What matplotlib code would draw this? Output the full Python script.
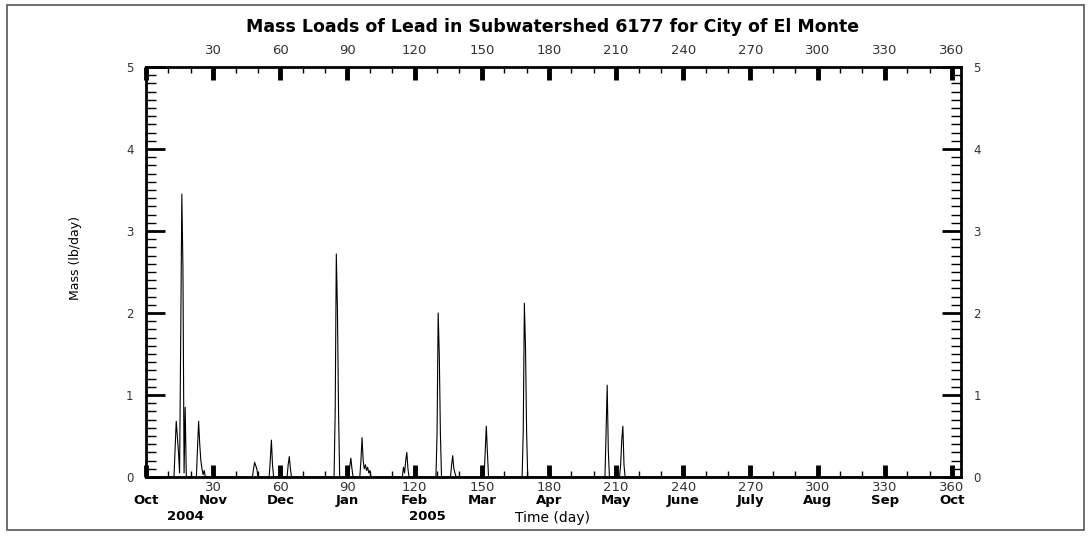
import matplotlib.pyplot as plt
from matplotlib.patches import Rectangle

plt.rcParams['font.family'] = ['DejaVu Sans']

# mass loads (day of water year, lb/day)
day = [0, 12.5, 13.0, 13.5, 14.0, 14.5, 15.0, 15.5, 16.0, 16.5, 17.0, 17.5, 18.0,
       22.5, 23.0, 23.5, 24.0, 24.5, 25.0, 25.5, 26.0, 26.5,
       47.5, 48.5, 49.5, 50.0,
       55.0, 55.5, 56.0, 56.5, 57.0,
       63.0, 63.5, 64.0, 64.5, 65.0,
       84.0, 84.5, 85.0, 85.5, 86.0, 86.5,
       90.5, 91.0, 91.5, 92.0, 92.5,
       95.5, 96.0, 96.5, 97.0, 97.5, 98.0, 98.5, 99.0, 99.5, 100.0, 100.5,
       114.5, 115.0, 115.5, 116.0, 116.5, 117.0, 117.5,
       129.5, 130.0, 130.5, 131.0, 131.5, 132.0,
       136.0, 136.5, 137.0, 137.5, 138.0, 138.5,
       151.0, 151.5, 152.0, 152.5, 153.0,
       168.0, 168.5, 169.0, 169.5, 170.0, 170.5,
       205.0, 205.5, 206.0, 206.5, 207.0,
       211.5, 212.0, 212.5, 213.0, 213.5, 214.0, 364]
mass = [0, 0, 0.35, 0.68, 0.5, 0.3, 0.05, 1.7, 3.45, 2.55, 0.05, 0.85, 0,
        0, 0.35, 0.68, 0.4, 0.2, 0.1, 0.03, 0.08, 0,
        0, 0.18, 0.1, 0,
        0, 0.2, 0.45, 0.15, 0,
        0, 0.15, 0.25, 0.1, 0,
        0, 0.8, 2.72, 2.05, 0.8, 0,
        0, 0.12, 0.23, 0.1, 0,
        0, 0.2, 0.48, 0.2, 0.1, 0.15, 0.08, 0.12, 0.05, 0.08, 0,
        0, 0.12, 0.05, 0.2, 0.3, 0.1, 0,
        0, 0.52, 2.0, 1.49, 0.52, 0,
        0, 0.15, 0.26, 0.1, 0.05, 0,
        0, 0.3, 0.62, 0.3, 0,
        0, 0.56, 2.12, 1.6, 0.56, 0,
        0, 0.55, 1.12, 0.32, 0,
        0, 0.15, 0.45, 0.62, 0.15, 0, 0]

day_ticks = [0, 30, 60, 90, 120, 150, 180, 210, 240, 270, 300, 330, 360]
months = ['Oct', 'Nov', 'Dec', 'Jan', 'Feb', 'Mar', 'Apr', 'May', 'June',
          'July', 'Aug', 'Sep', 'Oct']
mass_ticks = [0, 1, 2, 3, 4, 5]

fig = plt.figure(figsize=(10.88, 5.36), dpi=100)
fig.patches.append(Rectangle((0.006, 0.012), 0.99, 0.978, transform=fig.transFigure,
                             fill=False, edgecolor='#555555', linewidth=1.2))
ax = fig.add_axes([0.1342, 0.110, 0.749, 0.765])

ax.plot(day, mass, color='black', linewidth=0.8)

ax.set_xlim(0, 364)
ax.set_ylim(0, 5)

ax.set_xticks(day_ticks)
ax.set_xticklabels([''] + [str(d) for d in day_ticks[1:]], fontsize=9.5, color='#333333')
ax.set_xticks(range(0, 361, 10), minor=True)
ax.set_yticks(mass_ticks)
ax.set_yticklabels([str(v) for v in mass_ticks], fontsize=8.5, color='#333333')
ax.set_yticks([i / 10 for i in range(0, 51)], minor=True)

ax.tick_params(axis='x', which='major', direction='in', length=9, width=3.5,
               top=True, labeltop=False, pad=3)
ax.tick_params(axis='x', which='minor', direction='in', length=4, width=1, top=True)
ax.tick_params(axis='y', which='major', direction='in', length=14, width=2,
               right=True, labelright=True, pad=9)
ax.tick_params(axis='y', which='minor', direction='in', length=7, width=1, right=True)
for s in ax.spines.values():
    s.set_linewidth(2)

for d, m in zip(day_ticks, months):
    ax.annotate(m, xy=(d, 0), xycoords=('data', 'axes fraction'),
                xytext=(0, -12.5), textcoords='offset points',
                ha='center', va='top', fontsize=9.5, fontweight='bold')

top = ax.secondary_xaxis('top')
top.set_xticks(day_ticks[1:])
top.set_xticklabels([str(d) for d in day_ticks[1:]], fontsize=9.5, color='#333333')
top.tick_params(direction='in', length=0, pad=7)

fig.text(0.069, 0.519, 'Mass (lb/day)', fontsize=9, family='Liberation Sans Narrow',
         rotation=90, ha='center', va='center')
fig.text(0.508, 0.95, 'Mass Loads of Lead in Subwatershed 6177 for City of El Monte',
         fontsize=12.5, fontweight='bold', ha='center', va='center')

fig.text(0.170, 0.036, '2004', fontsize=9.5, fontweight='bold', ha='center', va='center')
fig.text(0.393, 0.037, '2005', fontsize=9.5, fontweight='bold', ha='center', va='center')
fig.text(0.508, 0.033, 'Time (day)', fontsize=10, ha='center', va='center')

fig.savefig('out.png', dpi=100)
